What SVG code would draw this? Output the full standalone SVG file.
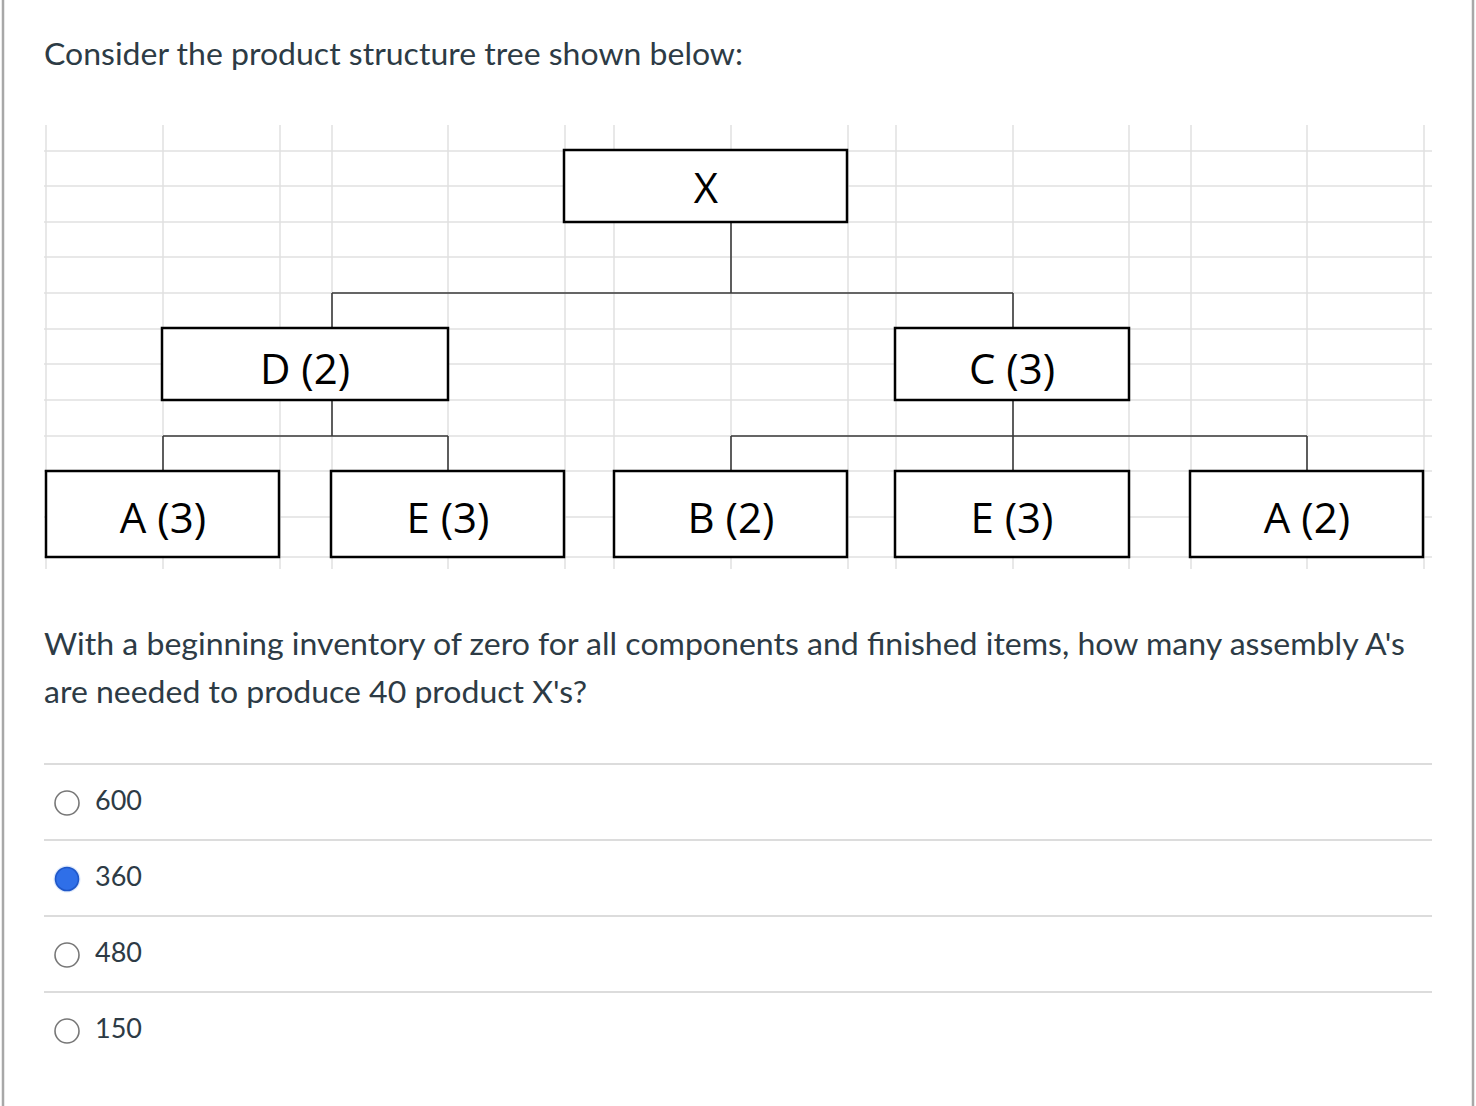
<svg xmlns="http://www.w3.org/2000/svg" width="1476" height="1106" viewBox="0 0 1476 1106">
<defs>
<style>
.grid line{stroke:#e1e1e1;stroke-width:1.5}
.box{fill:#fff;stroke:#000;stroke-width:2.5}
.lbl{font-family:"Open Sans","Liberation Sans",sans-serif;font-size:42px;fill:#000;text-anchor:middle}
.conn line{stroke:#3a3a3a;stroke-width:1.6}
.q{font-family:Lato,"Liberation Sans",sans-serif;font-size:30px;fill:#2d3b45}
.ans{font-family:Lato,"Liberation Sans",sans-serif;font-size:27px;fill:#2d3b45}
.sep{stroke:#dcdcdc;stroke-width:2}
.radio{fill:#fff;stroke:#777;stroke-width:1.6}
</style>
</defs>
<rect width="1476" height="1106" fill="#fff"/>
<line x1="3" y1="0" x2="3" y2="1106" stroke="#a8a8a8" stroke-width="2.5"/>
<line x1="1473" y1="0" x2="1473" y2="1106" stroke="#a8a8a8" stroke-width="2.5"/>

<text class="q" x="44" y="65" textLength="699" lengthAdjust="spacingAndGlyphs">Consider the product structure tree shown below:</text>

<g class="grid" id="grid">
<line x1="46" y1="125" x2="46" y2="569"/>
<line x1="163" y1="125" x2="163" y2="569"/>
<line x1="280" y1="125" x2="280" y2="569"/>
<line x1="332" y1="125" x2="332" y2="569"/>
<line x1="448" y1="125" x2="448" y2="569"/>
<line x1="565" y1="125" x2="565" y2="569"/>
<line x1="614" y1="125" x2="614" y2="569"/>
<line x1="731" y1="125" x2="731" y2="569"/>
<line x1="848" y1="125" x2="848" y2="569"/>
<line x1="896" y1="125" x2="896" y2="569"/>
<line x1="1013" y1="125" x2="1013" y2="569"/>
<line x1="1129" y1="125" x2="1129" y2="569"/>
<line x1="1191" y1="125" x2="1191" y2="569"/>
<line x1="1307" y1="125" x2="1307" y2="569"/>
<line x1="1424" y1="125" x2="1424" y2="569"/>
<line x1="44" y1="151" x2="1432" y2="151"/>
<line x1="44" y1="186" x2="1432" y2="186"/>
<line x1="44" y1="222" x2="1432" y2="222"/>
<line x1="44" y1="257" x2="1432" y2="257"/>
<line x1="44" y1="293" x2="1432" y2="293"/>
<line x1="44" y1="329" x2="1432" y2="329"/>
<line x1="44" y1="364" x2="1432" y2="364"/>
<line x1="44" y1="400" x2="1432" y2="400"/>
<line x1="44" y1="436" x2="1432" y2="436"/>
<line x1="44" y1="471" x2="1432" y2="471"/>
<line x1="44" y1="517" x2="1432" y2="517"/>
<line x1="44" y1="557" x2="1432" y2="557"/>
</g>

<g class="conn" id="connectors">
<line x1="731" y1="222" x2="731" y2="293"/>
<line x1="332" y1="293" x2="1013" y2="293"/>
<line x1="332" y1="293" x2="332" y2="328"/>
<line x1="1013" y1="293" x2="1013" y2="328"/>
<line x1="332" y1="400" x2="332" y2="436"/>
<line x1="163" y1="436" x2="448" y2="436"/>
<line x1="163" y1="436" x2="163" y2="471"/>
<line x1="448" y1="436" x2="448" y2="471"/>
<line x1="1013" y1="400" x2="1013" y2="471"/>
<line x1="731" y1="436" x2="1307" y2="436"/>
<line x1="731" y1="436" x2="731" y2="471"/>
<line x1="1307" y1="436" x2="1307" y2="471"/>
</g>

<g id="node-X"><rect class="box" x="564" y="150" width="283" height="72"/><text class="lbl" x="706" y="203">X</text></g>
<g id="node-D"><rect class="box" x="162" y="328" width="286" height="72"/><text class="lbl" x="305" y="384">D (2)</text></g>
<g id="node-C"><rect class="box" x="895" y="328" width="234" height="72"/><text class="lbl" x="1012" y="384">C (3)</text></g>
<g id="node-A3"><rect class="box" x="46" y="471" width="233" height="86"/><text class="lbl" x="163" y="533">A (3)</text></g>
<g id="node-E3a"><rect class="box" x="331" y="471" width="233" height="86"/><text class="lbl" x="448" y="533">E (3)</text></g>
<g id="node-B2"><rect class="box" x="614" y="471" width="233" height="86"/><text class="lbl" x="731" y="533">B (2)</text></g>
<g id="node-E3b"><rect class="box" x="895" y="471" width="234" height="86"/><text class="lbl" x="1012" y="533">E (3)</text></g>
<g id="node-A2"><rect class="box" x="1190" y="471" width="233" height="86"/><text class="lbl" x="1307" y="533">A (2)</text></g>

<text class="q" x="44" y="655" textLength="1361" lengthAdjust="spacingAndGlyphs">With a beginning inventory of zero for all components and finished items, how many assembly A's</text>
<text class="q" x="44" y="703" textLength="543" lengthAdjust="spacingAndGlyphs">are needed to produce 40 product X's?</text>

<line class="sep" x1="44" y1="764" x2="1432" y2="764"/>
<line class="sep" x1="44" y1="840" x2="1432" y2="840"/>
<line class="sep" x1="44" y1="916" x2="1432" y2="916"/>
<line class="sep" x1="44" y1="992" x2="1432" y2="992"/>

<circle class="radio" cx="67" cy="803" r="12"/>
<text class="ans" x="95" y="810">600</text>
<circle cx="67" cy="879" r="13.5" fill="#dce8fb"/>
<circle cx="67" cy="879" r="11.5" fill="#2f6fe8" stroke="#1f57c8" stroke-width="1.6"/>
<text class="ans" x="95" y="886">360</text>
<circle class="radio" cx="67" cy="955" r="12"/>
<text class="ans" x="95" y="962">480</text>
<circle class="radio" cx="67" cy="1031" r="12"/>
<text class="ans" x="95" y="1038">150</text>
</svg>
